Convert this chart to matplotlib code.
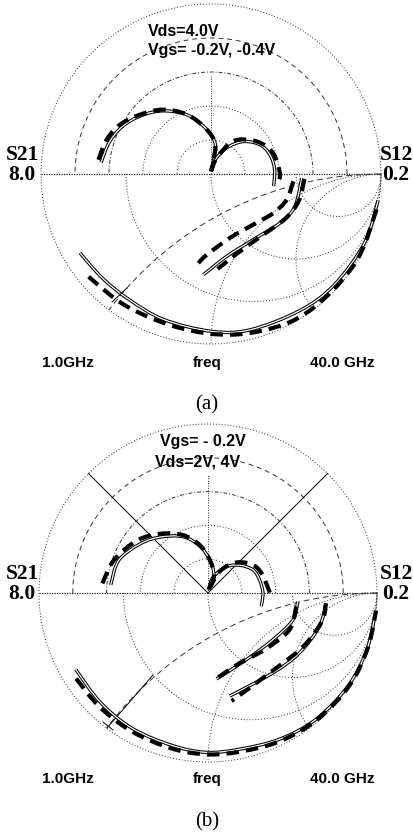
import numpy as np
import matplotlib
matplotlib.use("Agg")
import matplotlib.pyplot as plt
from matplotlib.path import Path
from matplotlib.patches import PathPatch

# ---------------- data (magnitude, phase in degrees) ----------------
# Panel (a): Vds=4.0V, Vgs=-0.2V,-0.4V
A_S21_MEAS_MAG = [5.20, 5.02, 4.74, 4.28, 3.72, 3.00, 2.18, 1.47, 0.68, 0.13]
A_S21_MEAS_ANG = [174, 163, 152, 140, 127, 112, 97, 82.5, 80, 90]
A_S21_MODEL_MAG = [5.34, 5.17, 4.87, 4.35, 3.77, 3.02, 2.18, 1.47, 0.68, 0.13]
A_S21_MODEL_ANG = [172.8, 161.8, 151.5, 140, 126.5, 112, 97, 82.5, 80, 90]

A_S12_MEAS_MAG = [0.003, 0.017, 0.036, 0.054, 0.067, 0.073, 0.075, 0.075]
A_S12_MEAS_ANG = [90, 74, 59, 45, 31, 18, 4, -11]
A_S12_MODEL_MAG = [0.003, 0.020, 0.047, 0.066, 0.077, 0.081, 0.080]
A_S12_MODEL_ANG = [90, 70, 55.7, 35.5, 18.7, 1, -6]

A_S11_MEAS_MAG = [0.90, 0.885, 0.882, 0.90, 0.925, 0.945, 0.958, 0.975, 0.99, 0.995]
A_S11_MEAS_ANG = [211, 224, 237, 252, 270, 284, 303, 318, 336, 351]
A_S11_MODEL_MAG = [0.94, 0.923, 0.924, 0.954, 0.985, 0.99, 0.997, 0.998]
A_S11_MODEL_ANG = [220, 237.5, 258.6, 277.9, 296.7, 311.8, 330, 349]

A_S22_MEAS_MAG = [0.534, 0.529, 0.498, 0.459, 0.493, 0.594]
A_S22_MEAS_ANG = [-2.6, -21, -35.3, -57.2, -79.2, -94.3]
A_S22_MODEL1_MAG = [0.486, 0.47, 0.433, 0.388, 0.392, 0.476, 0.529]
A_S22_MODEL1_ANG = [-5.1, -18.7, -32, -50, -73.4, -93, -98.1]
A_S22_MODEL2_MAG = [0.55, 0.54, 0.51, 0.47, 0.49, 0.56]
A_S22_MODEL2_ANG = [-3, -17, -31, -51, -71, -86]

# Panel (b): Vgs=-0.2V, Vds=2V,4V
B_S21_MEAS_MAG = [4.62, 4.50, 3.96, 3.48, 2.92, 2.26, 1.55, 0.90, 0.32]
B_S21_MEAS_ANG = [175.3, 159.8, 143.9, 130.4, 114, 100, 86.5, 71.7, 66.6]
B_S21_MODEL_MAG = [5.02, 4.72, 4.18, 3.60, 2.97, 2.29, 1.55, 0.90, 0.32]
B_S21_MODEL_ANG = [174.8, 160.8, 143.6, 128.8, 113, 99.5, 86.5, 71.7, 66.6]

B_S12_MEAS_MAG = [0.004, 0.020, 0.038, 0.050, 0.060, 0.063, 0.065, 0.065]
B_S12_MEAS_ANG = [80, 72, 55, 41, 27, 14, 0, -14]
B_S12_MODEL_MAG = [0.004, 0.028, 0.046, 0.058, 0.065, 0.068, 0.070, 0.075]
B_S12_MODEL_ANG = [80, 62, 50, 38, 28, 18, 9, -3]

B_S11_MEAS_MAG = [0.904, 0.908, 0.918, 0.927, 0.943, 0.943, 0.963, 0.983, 0.995, 0.998, 0.999]
B_S11_MEAS_ANG = [210, 225.6, 241, 257, 269.5, 281.5, 296, 310.5, 326.6, 340.6, 354]
B_S11_MODEL_MAG = [0.93, 0.93, 0.935, 0.945, 0.955, 0.958, 0.975, 0.99, 1.0, 1.0, 1.0]
B_S11_MODEL_ANG = [213, 226, 241, 257, 270, 282, 296, 311, 327, 341, 354]

B_S22_V2_MEAS_MAG = [0.533, 0.527, 0.473, 0.455, 0.511]
B_S22_V2_MEAS_ANG = [-5.5, -17.6, -35.7, -60, -84.3]
B_S22_V2_MODEL_MAG = [0.528, 0.529, 0.474, 0.455, 0.514]
B_S22_V2_MODEL_ANG = [-8.7, -24.3, -45, -65.6, -85.4]
B_S22_V4_MEAS_MAG = [0.701, 0.688, 0.647, 0.609, 0.623]
B_S22_V4_MEAS_ANG = [-5, -16.7, -33.3, -50.9, -78.1]
B_S22_V4_MODEL_MAG = [0.70, 0.697, 0.66, 0.631, 0.597, 0.613, 0.654]
B_S22_V4_MODEL_ANG = [-5, -13.2, -24.7, -34.2, -52.3, -66.2, -77.7]

S21_SCALE = 8.0
S12_SCALE = 0.2

W, H = 414, 835
fig = plt.figure(figsize=(W / 100, H / 100), dpi=100)

SANS = "Liberation Sans"
SERIF = "Liberation Serif"


def xy(mag, ang, scale=1.0):
    r = np.asarray(mag, float) / scale
    t = np.deg2rad(np.asarray(ang, float))
    return r * np.cos(t), r * np.sin(t)


def smooth_path(x, y):
    """Catmull-Rom curve through the data points, as cubic Bezier path."""
    p = np.column_stack([x, y])
    n = len(p)
    ext = np.vstack([p[0], p, p[-1]])
    verts = [p[0]]
    codes = [Path.MOVETO]
    for i in range(n - 1):
        p0, p1, p2, p3 = ext[i], ext[i + 1], ext[i + 2], ext[i + 3]
        verts += [p1 + (p2 - p0) / 6, p2 - (p3 - p1) / 6, p2]
        codes += [Path.CURVE4] * 3
    return Path(verts, codes)


def meas(ax, mag, ang, scale=1.0):
    x, y = xy(mag, ang, scale)
    path = smooth_path(x, y)
    ax.add_patch(PathPatch(path, fill=False, ec="black", lw=2.4,
                           capstyle="butt", zorder=5))
    ax.add_patch(PathPatch(path, fill=False, ec="white", lw=0.9,
                           capstyle="butt", zorder=6))


def model(ax, mag, ang, scale=1.0):
    x, y = xy(mag, ang, scale)
    path = smooth_path(x, y)
    ax.add_patch(PathPatch(path, fill=False, ec="black", lw=3.0,
                           ls=(0, (3.0, 1.7)), zorder=7))


def grid(ax, vtop):
    g = dict(color="#333333", lw=0.7, zorder=1)
    t = np.linspace(0, 2 * np.pi, 400)
    ax.plot(np.cos(t), np.sin(t), ls=(0, (1, 2)), **g)
    th = np.linspace(0, np.pi, 200)
    styles = {0.2: (0, (1, 2.5)), 0.4: (0, (1, 2)), 0.6: (0, (4, 2, 1, 2)),
              0.8: (0, (5, 4))}
    for rr, ls in styles.items():
        ax.plot(rr * np.cos(th), rr * np.sin(th), ls=ls, **g)
    ax.plot([-1, 1], [0, 0], color="#222222", lw=0.9, ls=(0, (1, 1)), zorder=1)
    ax.plot([0, 0], [0, vtop], ls=(0, (1, 1.5)), **g)
    # Smith chart, lower half
    ph = np.linspace(np.pi, 2 * np.pi, 300)
    for r, ls in [(1 / 3, (0, (1, 2))), (1.0, (0, (1, 2))), (3.0, (0, (1, 2)))]:
        c, rad = r / (r + 1), 1 / (r + 1)
        ax.plot(c + rad * np.cos(ph), rad * np.sin(ph), ls=ls, **g)
    ph = np.linspace(np.pi / 2, 3 * np.pi / 2, 2000)
    for xv, ls in [(0.5, (0, (6, 4))), (1.0, (0, (1, 2))), (2.0, (0, (1, 2)))]:
        rad = 1 / xv
        px = 1 + rad * np.cos(ph)
        py = -rad + rad * np.sin(ph)
        m = (px ** 2 + py ** 2 <= 1.0001) & (py <= 0)
        ax.plot(px[m], py[m], ls=ls, **g)


def panel(rect_px, cx, cy, R, vtop):
    x0, y0, x1, y1 = rect_px
    ax = fig.add_axes([x0 / W, 1 - y1 / H, (x1 - x0) / W, (y1 - y0) / H])
    ax.set_xlim((x0 - cx) / R, (x1 - cx) / R)
    ax.set_ylim((cy - y1) / R, (cy - y0) / R)
    ax.axis("off")
    grid(ax, vtop)
    return ax


def P(cx, cy, R, px, py):
    return (px - cx) / R, (cy - py) / R


def labels(ax, cx, cy, R, ymid, ybot, cap, ycap):
    kw = dict(family=SERIF, fontsize=15.5, fontweight="bold", ha="center",
              va="center", multialignment="center", linespacing=0.95)
    ax.text(*P(cx, cy, R, 22, ymid - 9), "S21\n8.0", **kw)
    ax.text(*P(cx, cy, R, 396, ymid - 9), "S12\n0.2", **kw)
    sk = dict(family=SANS, fontsize=11, fontweight="bold", ha="center", va="center")
    ax.text(*P(cx, cy, R, 68, ybot), "1.0GHz", **sk)
    ax.text(*P(cx, cy, R, 207, ybot), "freq", **sk)
    ax.text(*P(cx, cy, R, 342, ybot), "40.0 GHz", **sk)
    ax.text(*P(cx, cy, R, 207, ycap), cap, family=SERIF, fontsize=15,
            ha="center", va="center")


# ---------------- panel (a) ----------------
cxa, cya, Ra = 211, 174, 170
axa = panel((0, 0, 414, 415), cxa, cya, Ra, 0.58)
meas(axa, A_S21_MEAS_MAG, A_S21_MEAS_ANG, S21_SCALE)
model(axa, A_S21_MODEL_MAG, A_S21_MODEL_ANG, S21_SCALE)
meas(axa, A_S12_MEAS_MAG, A_S12_MEAS_ANG, S12_SCALE)
model(axa, A_S12_MODEL_MAG, A_S12_MODEL_ANG, S12_SCALE)
meas(axa, A_S11_MEAS_MAG, A_S11_MEAS_ANG)
model(axa, A_S11_MODEL_MAG, A_S11_MODEL_ANG)
meas(axa, A_S22_MEAS_MAG, A_S22_MEAS_ANG)
model(axa, A_S22_MODEL1_MAG, A_S22_MODEL1_ANG)
model(axa, A_S22_MODEL2_MAG, A_S22_MODEL2_ANG)
axa.plot(*zip(P(cxa, cya, Ra, 127, 288), P(cxa, cya, Ra, 112, 302)),
         color="black", lw=0.7, zorder=8)

labels(axa, cxa, cya, Ra, 174, 363, "(a)", 405)
tk = dict(family=SANS, fontsize=11.5, fontweight="bold", va="center")
axa.text(*P(cxa, cya, Ra, 148, 32), "Vds=4.0V", ha="left", **tk)
axa.text(*P(cxa, cya, Ra, 148, 50), "Vgs= -0.2V, -0.4V", ha="left", **tk)

# ---------------- panel (b) ----------------
cxb, cyb, Rb = 208, 593, 169
axb = panel((0, 415, 414, 835), cxb, cyb, Rb, 0.7)
meas(axb, B_S21_MEAS_MAG, B_S21_MEAS_ANG, S21_SCALE)
model(axb, B_S21_MODEL_MAG, B_S21_MODEL_ANG, S21_SCALE)
meas(axb, B_S12_MEAS_MAG, B_S12_MEAS_ANG, S12_SCALE)
model(axb, B_S12_MODEL_MAG, B_S12_MODEL_ANG, S12_SCALE)
meas(axb, B_S11_MEAS_MAG, B_S11_MEAS_ANG)
model(axb, B_S11_MODEL_MAG, B_S11_MODEL_ANG)
meas(axb, B_S22_V2_MEAS_MAG, B_S22_V2_MEAS_ANG)
model(axb, B_S22_V2_MODEL_MAG, B_S22_V2_MODEL_ANG)
meas(axb, B_S22_V4_MEAS_MAG, B_S22_V4_MEAS_ANG)
model(axb, B_S22_V4_MODEL_MAG, B_S22_V4_MODEL_ANG)
for a in (45, 135):
    axb.plot([0, np.cos(np.deg2rad(a))], [0, np.sin(np.deg2rad(a))],
             color="black", lw=0.7, zorder=2)
axb.plot(*zip(P(cxb, cyb, Rb, 153, 675), P(cxb, cyb, Rb, 107, 728)),
         color="black", lw=0.7, zorder=2)
axb.plot(*zip(P(cxb, cyb, Rb, 103, 722), P(cxb, cyb, Rb, 113, 730)),
         color="black", lw=0.7, zorder=2)

labels(axb, cxb, cyb, Rb, 593, 779, "(b)", 822)
axb.text(*P(cxb, cyb, Rb, 203, 441), "Vgs= - 0.2V", ha="center", **tk)
axb.text(*P(cxb, cyb, Rb, 198, 462), "Vds=2V, 4V", ha="center", **tk)

fig.savefig("out.png", dpi=100)
